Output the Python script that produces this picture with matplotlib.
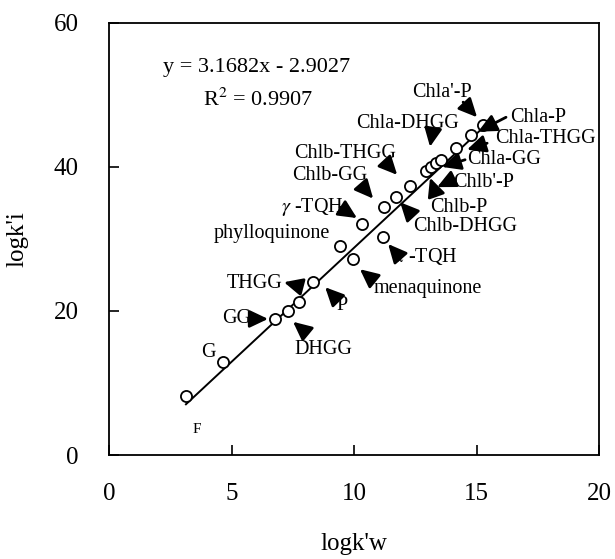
import numpy as np
import matplotlib.pyplot as plt

plt.rcParams['font.family'] = ['Liberation Serif', 'DejaVu Serif']
plt.rcParams['mathtext.fontset'] = 'stix'

# measured points (logk'w, logk'i)
logkw = [3.14, 4.65, 6.78, 7.31, 7.76, 8.33, 9.43, 9.96, 10.33, 11.18,
         11.22, 11.71, 12.29, 12.94, 13.14, 13.35, 13.55, 14.16, 14.78, 15.27]
logki = [8.2, 12.9, 18.9, 20.0, 21.25, 24.0, 29.0, 27.2, 32.1, 30.3,
         34.4, 35.8, 37.4, 39.4, 40.0, 40.6, 41.0, 42.6, 44.4, 45.8]

slope = 3.1682
intercept = -2.9027
r2 = 0.9907
fit_x = [3.14, 15.4]

# label, text position, alignment, arrow tail, arrow tip
labels = [
    ("Chla'-P",   (13.59, 50.3), 'center', (14.45, 49.0), (15.02, 46.9)),
    ("Chla-P",    (16.37, 46.9), 'left',   (16.2, 46.9),  (15.06, 44.9)),
    ("Chla-THGG", (15.76, 43.9), 'left',   (15.43, 43.3), (14.61, 42.4)),
    ("Chla-DHGG", (12.2, 46.1),  'center', (13.18, 44.4), (13.1, 42.8)),
    ("Chlb-THGG", (9.63, 41.9),  'center', (11.27, 40.7), (11.76, 38.9)),
    ("Chla-GG",   (14.61, 41.0), 'left',   (14.53, 41.0), (13.59, 40.0)),
    ("Chlb'-P",   (14.04, 37.9), 'left',   (14.0, 38.2),  (13.39, 37.2)),
    ("Chlb-P",    (13.1, 34.4),  'left',   (13.35, 36.1), (13.1, 38.5)),
    ("Chlb-DHGG", (12.41, 31.7), 'left',   (12.37, 33.3), (11.88, 35.1)),
    ("Chlb-GG",   (9.0, 38.75),  'center', (10.37, 37.2), (10.78, 35.6)),
    ("$\\gamma$ -TQH", (8.29, 34.4), 'center', (9.43, 34.4), (10.12, 32.9)),
    ("phylloquinone", (6.65, 30.7), 'center', None, None),
    ("$\\alpha$ -TQH", (11.55, 27.5), 'left', (11.88, 27.4), (11.39, 29.3)),
    ("menaquinone", (13.0, 23.1), 'center', (10.78, 24.3), (10.24, 25.8)),
    ("P",         (9.51, 20.7),  'center', (9.22, 21.9),  (8.82, 23.3)),
    ("THGG",      (5.96, 23.75), 'center', (7.59, 23.6),  (7.14, 24.0)),
    ("GG",        (5.22, 19.0),  'center', (5.84, 18.9),  (6.49, 18.9)),
    ("G",         (4.04, 14.2),  'center', None, None),
    ("DHGG",      (8.73, 14.6),  'center', (8.08, 16.9),  (7.51, 18.5)),
]

fig = plt.figure(figsize=(6.15, 5.59), dpi=100)
ax = fig.add_axes([0.1772, 0.186, 0.797, 0.773])

ax.plot(fit_x, [slope * v + intercept for v in fit_x], '-k', lw=1.4)
ax.plot(logkw, logki, 'o', mfc='white', mec='k', ms=8, mew=1.3)

for txt, pos, ha, tail, tip in labels:
    ax.text(pos[0], pos[1], txt, ha=ha, va='center', fontsize=14.5)
    if tail is not None:
        ax.annotate('', xy=tip, xytext=tail,
                    arrowprops=dict(arrowstyle='-|>,head_length=0.8,head_width=0.38',
                                    color='k', lw=2, shrinkA=0, shrinkB=0,
                                    mutation_scale=14))
ax.text(3.59, 3.5, 'F', ha='center', va='center', fontsize=11)

ax.text(2.2, 53.75, 'y = %.4fx - %.4f' % (slope, -intercept), fontsize=16, va='center')
ax.text(3.84, 49.3, 'R$^{2}$ = %.4f' % r2, fontsize=16, va='center')

ax.set_xlim(0, 20)
ax.set_ylim(0, 60)
ax.set_xticks([0, 5, 10, 15, 20])
ax.set_yticks([0, 20, 40, 60])
ax.tick_params(direction='in', length=7, width=1.2, labelsize=18, pad=20)
ax.tick_params(axis='y', pad=22)
for s in ax.spines.values():
    s.set_linewidth(1.3)
ax.set_xlabel("logk'w", fontsize=18, labelpad=20)
ax.set_ylabel("logk'i", fontsize=18, labelpad=18)

fig.savefig('out.png', dpi=100)
